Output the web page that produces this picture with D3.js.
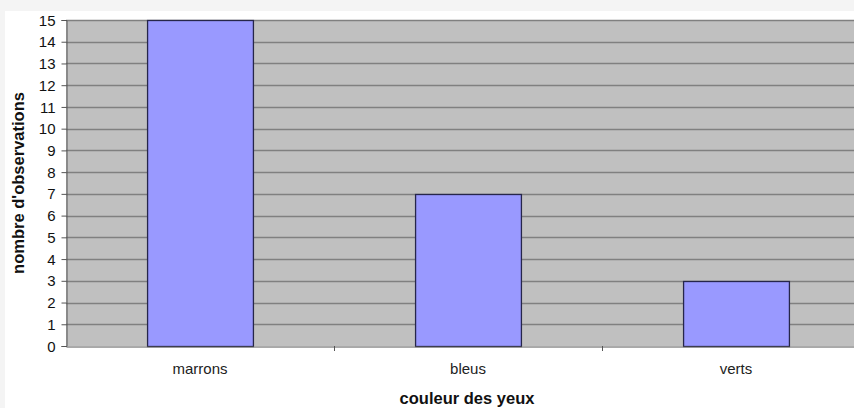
<!DOCTYPE html>
<html><head><meta charset="utf-8">
<script src="https://cdn.jsdelivr.net/npm/d3@7"></script>
<style>body{margin:0;background:#fff}svg{display:block}</style>
</head><body>
<script>
const categories = ["marrons", "bleus", "verts"];
const values = [15, 7, 3];
const yTicks = [0,1,2,3,4,5,6,7,8,9,10,11,12,13,14,15];
const xTitle = "couleur des yeux";
const yTitle = "nombre d'observations";

const W = 854, H = 408;
const FONT = "Liberation Sans, Arial, sans-serif";
const m = {left: 66, top: 20};
const svg = d3.select("body").append("svg").attr("width", W).attr("height", H);
svg.append("rect").attr("width", W).attr("height", H).attr("fill", "#fff");
svg.append("rect").attr("x",0).attr("y",0).attr("width",W).attr("height",11).attr("fill","#f4f4f4");
svg.append("rect").attr("x",0).attr("y",0).attr("width",5).attr("height",H).attr("fill","#f4f4f4");

const x = d3.scaleBand().domain(categories).range([m.left, 870]).paddingInner(0.605).paddingOuter(0.3025);
const xb = d3.scaleBand().domain(categories).range([m.left, 870]);
const y = d3.scaleLinear().domain([0, 15]).range([346, 20]);

svg.append("rect").attr("x", m.left).attr("y", y(15)).attr("width", 870 - m.left).attr("height", y(0) - y(15)).attr("fill", "#c0c0c0");

svg.append("g").selectAll("line").data(yTicks.filter(d => d > 0)).join("line")
  .attr("x1", m.left).attr("x2", 870).attr("y1", d => Math.round(y(d)) + 0.5).attr("y2", d => Math.round(y(d)) + 0.5)
  .attr("stroke", "#808080").attr("stroke-width", 1.5);

svg.append("g").selectAll("rect").data(values).join("rect")
  .attr("x", (d, i) => x(categories[i]) + 0.5)
  .attr("y", d => Math.round(y(d)) + 0.5)
  .attr("width", x.bandwidth())
  .attr("height", d => Math.round(y(0)) - Math.round(y(d)))
  .attr("fill", "#9999ff").attr("stroke", "#26264a").attr("stroke-width", 1.3);

const yAxis = svg.append("g").attr("transform", `translate(${m.left + 0.5},0)`)
  .call(d3.axisLeft(y).tickValues(yTicks).tickSize(5).tickPadding(6).tickFormat(d3.format("d")));
yAxis.select(".domain").attr("stroke", "#555");
yAxis.selectAll(".tick line").attr("stroke", "#555");
yAxis.selectAll("text").attr("font-family", FONT).attr("font-size", 15).attr("fill", "#111").attr("dy", "0.34em");

const xAxis = svg.append("g").attr("transform", `translate(0,${Math.round(y(0)) + 0.5})`)
  .call(d3.axisBottom(xb).tickSize(0).tickPadding(17));
xAxis.select(".domain").attr("stroke", "#555");
xAxis.selectAll("text").attr("font-family", FONT).attr("font-size", 15).attr("fill", "#222");
svg.append("g").selectAll("line").data(categories.slice(1)).join("line")
  .attr("x1", d => Math.round(xb(d)) + 0.5).attr("x2", d => Math.round(xb(d)) + 0.5)
  .attr("y1", 346).attr("y2", 351).attr("stroke", "#555");

svg.append("text").attr("x", 467).attr("y", 404).attr("text-anchor", "middle")
  .attr("font-family", FONT).attr("font-size", 16.5).attr("font-weight", "bold")
  .attr("fill", "#111").text(xTitle);
svg.append("text").attr("transform", "translate(24,183) rotate(-90)").attr("text-anchor", "middle")
  .attr("font-family", FONT).attr("font-size", 16.5).attr("font-weight", "bold")
  .attr("fill", "#111").text(yTitle);
</script>
</body></html>
